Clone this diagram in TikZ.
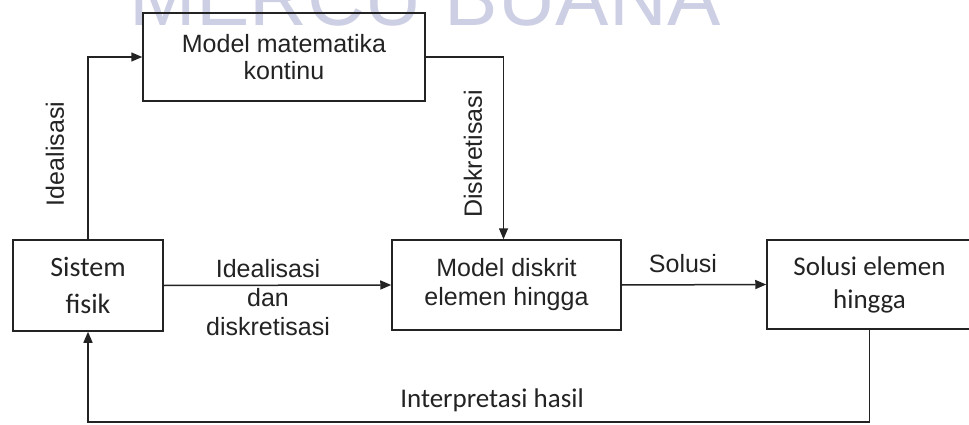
\documentclass[tikz,border=0pt]{standalone}
\usepackage{fontspec}
\setmainfont{Liberation Sans}
\newfontfamily\calfont{Carlito}
\usetikzlibrary{arrows.meta}
\definecolor{ink}{RGB}{35,35,35}
\definecolor{wm}{RGB}{205,207,228}
\begin{document}
\begin{tikzpicture}[x=1pt,y=-1pt,
  box/.style={draw=ink, line width=1.5pt, inner sep=0pt, align=center, text=ink},
  conn/.style={draw=ink, line width=1.5pt},
  arr/.style={conn, -{Triangle[length=11pt,width=9pt]}},
  lbl/.style={text=ink, inner sep=0pt, font=\fontsize{25}{29}\selectfont, align=center}]
\useasboundingbox (0,0) rectangle (969,425);
\clip (0,0) rectangle (969,425);
\fill[white] (0,0) rectangle (969,425);
\node[text=wm, inner sep=0pt, font=\fontsize{80}{80}\selectfont, anchor=base] (wmk) at (425,26) {MERCU BUANA};

\node[box, minimum width=282pt, minimum height=88pt, font=\fontsize{25}{27}\selectfont] (mm) at (284,57) {Model matematika\\kontinu};
\node[box, minimum width=150pt, minimum height=91pt, font=\calfont\fontsize{28}{37}\selectfont] (sf) at (88,285.5) {Sistem\\fisik};
\node[box, minimum width=229pt, minimum height=90pt, font=\fontsize{25}{29}\selectfont] (md) at (506.5,285) {Model diskrit\\elemen hingga};
\node[box, minimum width=205pt, minimum height=89pt, font=\calfont\fontsize{27}{33}\selectfont] (se) at (869.5,284.5) {Solusi elemen\\hingga};

\coordinate (bl) at (0,422);
\draw[arr] (sf.north) |- (mm.west);
\draw[arr] (mm.east) -| ([xshift=-3pt]md.north);
\draw[arr] (sf.east) -- (md.west);
\draw[arr] (md.east) -- (se.west);
\draw[arr] (se.south) -- (se.south |- bl) -| (sf.south);

\node[lbl, rotate=90] (l1) at (55,154) {Idealisasi};
\node[lbl, rotate=90] (l2) at (473,154) {Diskretisasi};
\node[lbl] (l3) at (268,298) {Idealisasi\\dan\\diskretisasi};
\node[lbl, anchor=base] (l4) at (683,272) {Solusi};
\node[lbl, anchor=base, font=\calfont\fontsize{27}{27}\selectfont] (l5) at (492,407) {Interpretasi hasil};
\end{tikzpicture}
\end{document}
